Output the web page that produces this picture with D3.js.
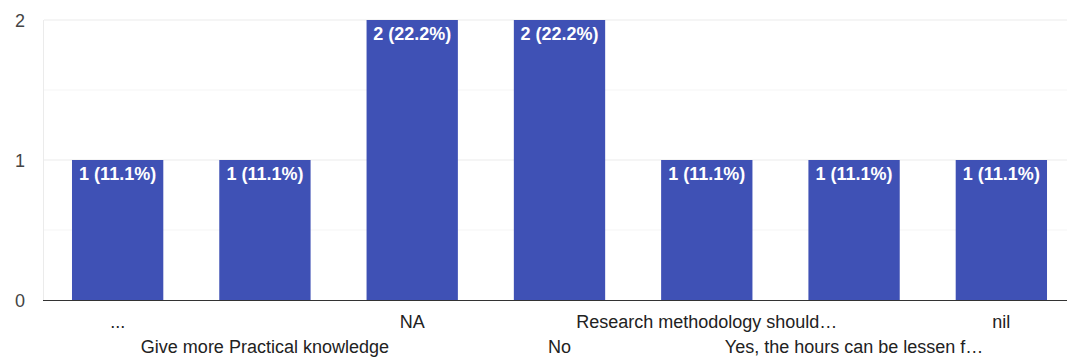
<!DOCTYPE html>
<html>
<head>
<meta charset="utf-8">
<script src="https://d3js.org/d3.v7.min.js"></script>
<style>
  body { margin: 0; background: #fff; }
  text { font-family: Arial, "Liberation Sans", sans-serif; }
</style>
</head>
<body>
<div id="chart"></div>
<script>
var categories = ["...", "Give more Practical knowledge", "NA", "No",
                  "Research methodology should\u2026", "Yes, the hours can be lessen f\u2026", "nil"];
var counts = [1, 1, 2, 2, 1, 1, 1];
var labels = ["1 (11.1%)", "1 (11.1%)", "2 (22.2%)", "2 (22.2%)", "1 (11.1%)", "1 (11.1%)", "1 (11.1%)"];
var yTicks = [0, 1, 2];
var yMinor = [0.5, 1.5];

var svg_dx = 1067, svg_dy = 360;

var x = d3.scaleBand().domain(categories).range([44, 1075]).paddingInner(0.38).paddingOuter(0.19);
var y = d3.scaleLinear().domain([0, 2]).range([300, 20]);

var svg = d3.select("#chart")
            .append("svg")
            .attr("width", svg_dx)
            .attr("height", svg_dy);

// minor gridlines
svg.selectAll(".minor")
   .data(yMinor)
   .enter()
   .append("line")
   .attr("x1", 44).attr("x2", svg_dx)
   .attr("y1", d => y(d)).attr("y2", d => y(d))
   .style("stroke", "#f5f5f5")
   .style("stroke-width", 1);

// major gridlines
svg.selectAll(".major")
   .data(yTicks.filter(d => d > 0))
   .enter()
   .append("line")
   .attr("x1", 44).attr("x2", svg_dx)
   .attr("y1", d => y(d)).attr("y2", d => y(d))
   .style("stroke", "#ebebeb")
   .style("stroke-width", 1);

// left frame line
svg.append("line")
   .attr("x1", 43.5).attr("x2", 43.5)
   .attr("y1", y(2)).attr("y2", y(0))
   .style("stroke", "#ebebeb");

// y tick labels
svg.selectAll(".ylab")
   .data(yTicks)
   .enter()
   .append("text")
   .attr("x", 25)
   .attr("y", d => y(d) + 7)
   .attr("text-anchor", "end")
   .style("font-size", "18px")
   .style("fill", "#444")
   .text(d => d);

// bars
svg.selectAll(".bar")
   .data(categories)
   .enter()
   .append("rect")
   .attr("x", d => x(d))
   .attr("y", (d, i) => y(counts[i]))
   .attr("width", x.bandwidth())
   .attr("height", (d, i) => y(0) - y(counts[i]))
   .style("fill", "#3f51b5");

// value labels inside bars
svg.selectAll(".val")
   .data(categories)
   .enter()
   .append("text")
   .attr("x", d => x(d) + x.bandwidth() / 2)
   .attr("y", (d, i) => y(counts[i]) + 20)
   .attr("text-anchor", "middle")
   .style("font-size", "18px")
   .style("font-weight", "bold")
   .style("fill", "#fff")
   .text((d, i) => labels[i]);

// baseline
svg.append("line")
   .attr("x1", 43).attr("x2", svg_dx)
   .attr("y1", y(0) + 0.5).attr("y2", y(0) + 0.5)
   .style("stroke", "#333")
   .style("stroke-width", 1);

// category labels, alternating rows
svg.selectAll(".cat")
   .data(categories)
   .enter()
   .append("text")
   .attr("x", d => x(d) + x.bandwidth() / 2)
   .attr("y", (d, i) => i % 2 == 0 ? 328 : 353)
   .attr("text-anchor", "middle")
   .style("font-size", "18px")
   .style("fill", "#222")
   .text(d => d);
</script>
</body>
</html>
